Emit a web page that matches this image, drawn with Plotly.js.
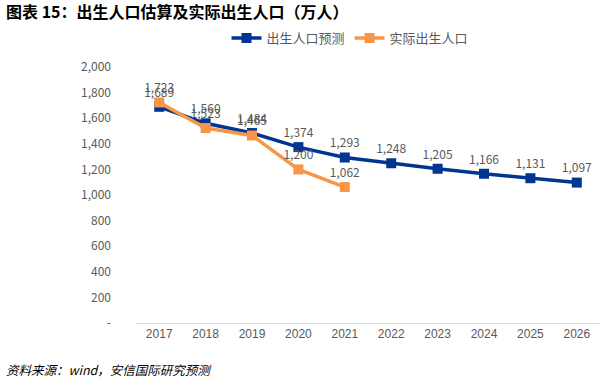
<!DOCTYPE html>
<html>
<head>
<meta charset="utf-8">
<script src="https://cdn.plot.ly/plotly-3.0.1.min.js"></script>
<style>html,body{margin:0;padding:0;background:#fff;}#chart{width:610px;height:381px;}</style>
</head>
<body>
<div id="chart"></div>
<script>
const years = ['2017','2018','2019','2020','2021','2022','2023','2024','2025','2026'];
const forecast = [1689, 1560, 1484, 1374, 1293, 1248, 1205, 1166, 1131, 1097];
const actualYears = ['2017','2018','2019','2020','2021'];
const actual = [1723, 1523, 1465, 1200, 1062];
const yTickVals = [0, 200, 400, 600, 800, 1000, 1200, 1400, 1600, 1800, 2000];
const yTickText = ['-', '200', '400', '600', '800', '1,000', '1,200', '1,400', '1,600', '1,800', '2,000'];

const fmt = v => v.toLocaleString('en-US');
const numFont = {family: 'Noto Sans CJK SC, DejaVu Sans, sans-serif', size: 12, color: '#595959'};

const traces = [
  {
    x: years, y: forecast, name: '出生人口预测', type: 'scatter', mode: 'lines+markers+text',
    line: {color: '#003591', width: 3.5},
    marker: {symbol: 'square', size: 10, color: '#003591'},
    text: forecast.map(fmt), textposition: 'top center', textfont: numFont,
    cliponaxis: false
  },
  {
    x: actualYears, y: actual, name: '实际出生人口', type: 'scatter', mode: 'lines+markers+text',
    line: {color: '#F79646', width: 3.5},
    marker: {symbol: 'square', size: 10, color: '#F79646'},
    text: actual.map(fmt), textposition: 'top center', textfont: numFont,
    cliponaxis: false
  }
];

const L = 136, PW = 464, PH = 256, B = 58;
const layout = {
  width: 610, height: 381,
  margin: {l: L, r: 10, t: 67, b: B},
  paper_bgcolor: '#fff', plot_bgcolor: '#fff',
  showlegend: true,
  legend: {orientation: 'h', x: (350 - L) / PW, xanchor: 'center', y: (381 - B - 38) / PH, yanchor: 'middle',
           font: {family: 'Noto Sans CJK SC, sans-serif', size: 13, color: '#595959'},
           itemwidth: 30, tracegroupgap: 0},
  xaxis: {type: 'category', range: [-0.5, 9.5], showgrid: false, zeroline: false,
          showline: true, linecolor: '#d9d9d9', linewidth: 1,
          ticks: '', tickfont: {family: 'Liberation Sans Narrow, Liberation Sans, sans-serif', size: 12, color: '#595959'}},
  yaxis: {range: [0, 2000], tickvals: yTickVals, ticktext: yTickText, showgrid: false,
          zeroline: false, showline: false, ticks: '', ticklabelstandoff: 24,
          tickfont: numFont},
  annotations: [
    {text: '<b>图表 15：出生人口估算及实际出生人口（万人）</b>', xref: 'paper', yref: 'paper',
     x: -(L - 4) / PW, y: (381 - B - 11) / PH, xanchor: 'left', yanchor: 'middle', showarrow: false,
     font: {family: 'Noto Sans CJK SC, sans-serif', size: 16, color: '#000'}},
    {text: '<i>资料来源：wind，安信国际研究预测</i>', xref: 'paper', yref: 'paper',
     x: -(L - 4) / PW, y: -(369 - 323) / PH, xanchor: 'left', yanchor: 'middle', showarrow: false,
     font: {family: 'Noto Sans CJK SC, sans-serif', size: 12.5, color: '#000'}}
  ]
};

Plotly.newPlot('chart', traces, layout, {displayModeBar: false, staticPlot: true});
</script>
</body>
</html>
